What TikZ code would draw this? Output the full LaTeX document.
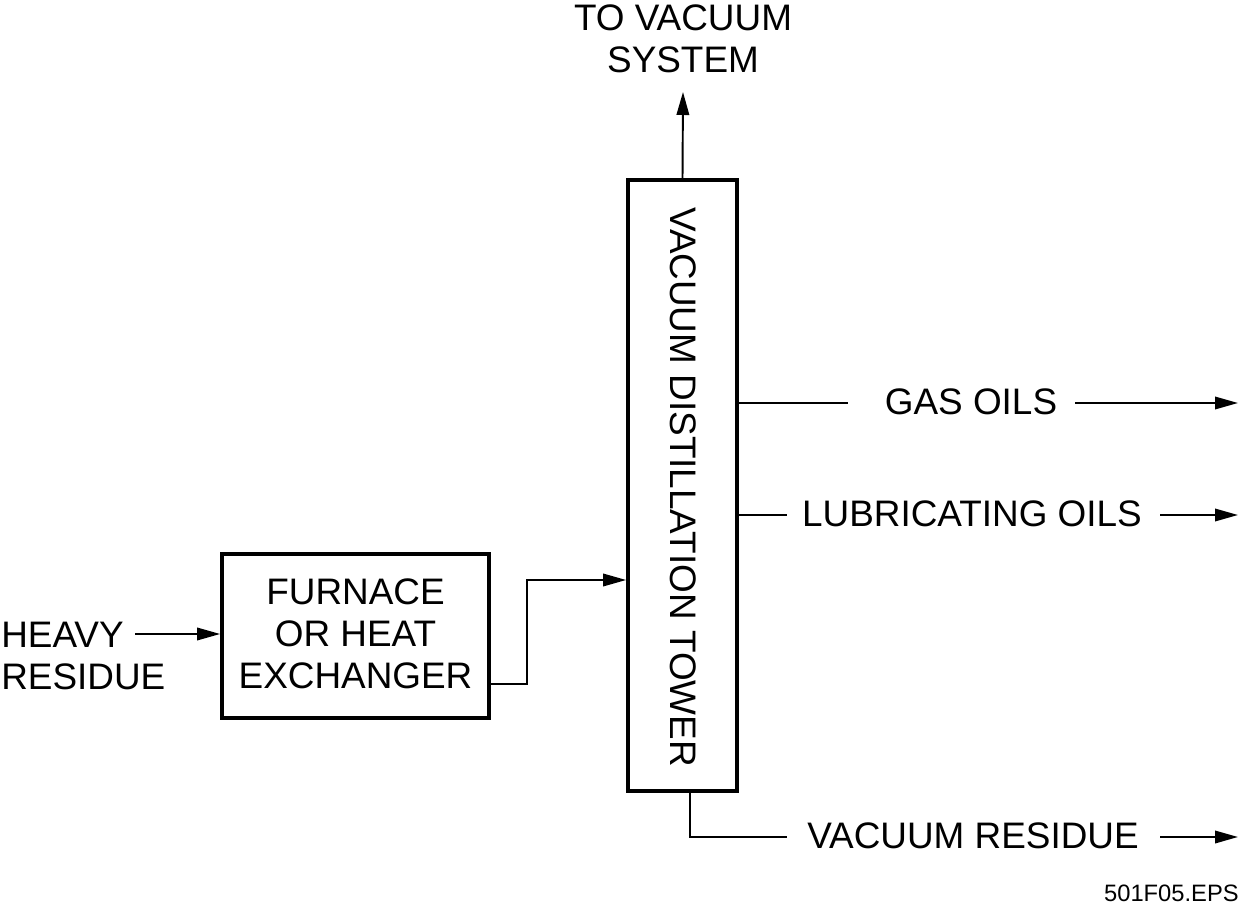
\documentclass[tikz,border=0pt]{standalone}
\usepackage{fontspec}
\setmainfont{Liberation Sans}
\usetikzlibrary{arrows.meta}
\begin{document}
\begin{tikzpicture}[x=0.02cm,y=-0.02cm,
  box/.style={draw,line width=2.2pt,inner sep=0pt},
  lbl/.style={font=\fontsize{21}{24}\selectfont,inner sep=0pt,align=center},
  conn/.style={line width=1.1pt},
  arr/.style={line width=1.1pt,-{Triangle[length=4.6mm,width=2.5mm]}}]
\useasboundingbox (0,0) rectangle (1241,912);
% boxes
\node[box,minimum width=2.18cm,minimum height=12.22cm] (tower) at (682.5,485.5) {};
\node[lbl,rotate=-90] (towertxt) at (683,487) {VACUUM DISTILLATION TOWER};
\node[box,minimum width=5.34cm,minimum height=3.28cm] (furn) at (355.5,636) {};
\node[lbl] (furntxt) at (355.5,634) {FURNACE\\OR HEAT\\EXCHANGER};
% labels
\node[lbl,align=left,anchor=west] (heavy) at (1,656) {HEAVY\\RESIDUE};
\node[lbl] (top) at (683,39) {TO VACUUM\\SYSTEM};
\node[lbl] (gas) at (971,402) {GAS OILS};
\node[lbl] (lub) at (972,514) {LUBRICATING OILS};
\node[lbl] (vres) at (973,836) {VACUUM RESIDUE};
\node[font=\fontsize{13.5}{16}\selectfont,inner sep=0pt,anchor=east] (eps) at (1239,893) {501F05.EPS};
% coordinates
\coordinate (hs) at (135,634);
\coordinate (topend) at (683,92);
\coordinate (f1) at (527,684);
\coordinate (f2) at (527,580);
\coordinate (g1) at (848,403);
\coordinate (g2) at (1075,403);
\coordinate (g3) at (1238,403);
\coordinate (l1) at (787,515);
\coordinate (l2) at (1160,515);
\coordinate (l3) at (1238,515);
\coordinate (v0) at (690,792);
\coordinate (v1) at (690,837);
\coordinate (v2) at (787,837);
\coordinate (v3) at (1160,837);
\coordinate (v4) at (1238,837);
% connectors
\draw[arr] (hs) -- (furn.west |- hs);
\draw[arr] (furn.east |- f1) -- (f1) -- (f2) -- (tower.west |- f2);
\draw[arr] (tower.north) -- (topend);
\draw[conn] (tower.east |- g1) -- (g1);
\draw[arr] (g2) -- (g3);
\draw[conn] (tower.east |- l1) -- (l1);
\draw[arr] (l2) -- (l3);
\draw[conn] (tower.south -| v0) -- (v1) -- (v2);
\draw[arr] (v3) -- (v4);
\end{tikzpicture}
\end{document}
